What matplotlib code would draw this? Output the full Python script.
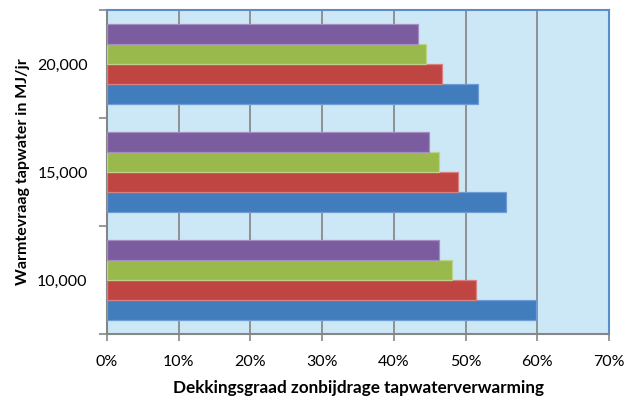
import matplotlib.pyplot as plt
import numpy as np

categories = ["10,000", "15,000", "20,000"]
# Four series per demand level, drawn bottom to top within each group
series_blue = [59.8, 55.7, 51.7]
series_red = [51.4, 49.0, 46.7]
series_green = [48.1, 46.3, 44.5]
series_purple = [46.3, 44.9, 43.3]
xticks_pct = [0, 10, 20, 30, 40, 50, 60, 70]

plt.rcParams['font.family'] = ['Lato', 'DejaVu Sans']

fig = plt.figure(figsize=(6.27, 3.99), dpi=100)
ax = fig.add_axes([0.1707, 0.1629, 0.9713 - 0.1707, 0.975 - 0.1629])
ax.set_facecolor('#CCE8F6')

series = [
    (series_blue, '#417CBD', '#6F9DD3'),
    (series_red, '#BE4541', '#D8807D'),
    (series_green, '#9AB94D', '#BBD488'),
    (series_purple, '#7B5C9E', '#A48DC0'),
]
y = np.arange(len(categories))
h = 0.186
offsets = [-1.5 * h, -0.5 * h, 0.5 * h, 1.5 * h]
for (vals, fc, ec), off in zip(series, offsets):
    ax.barh(y + off, vals, height=h, color=fc, edgecolor=ec, linewidth=0.9, zorder=3)

ax.set_xlim(0, 70)
ax.set_ylim(-0.5, 2.5)
ax.set_xticks(xticks_pct)
ax.set_xticklabels([f"{v}%" for v in xticks_pct], fontsize=11.5)
ax.set_yticks(y)
ax.set_yticklabels(categories, fontsize=11.5)
ax.set_yticks([-0.5, 0.5, 1.5, 2.5], minor=True)
ax.tick_params(axis='y', which='major', length=0, pad=14)
ax.tick_params(axis='y', which='minor', length=6, width=1.2, color='#868686', direction='out')
ax.tick_params(axis='x', which='major', length=5, width=1.2, color='#868686', direction='out', pad=10)

ax.grid(axis='x', color='#8A8A8A', linewidth=1.3, zorder=1)
ax.set_axisbelow(True)

for s in ['left', 'bottom']:
    ax.spines[s].set_color('#868686')
    ax.spines[s].set_linewidth(1.5)
for s in ['top', 'right']:
    ax.spines[s].set_color('#5A8ECB')
    ax.spines[s].set_linewidth(1.5)

ax.set_xlabel("Dekkingsgraad zonbijdrage tapwaterverwarming", fontsize=12.3,
              fontweight='bold', labelpad=8)
ax.set_ylabel("Warmtevraag tapwater in MJ/jr", fontsize=11.5, fontweight='bold', labelpad=5)

fig.savefig("out.png", dpi=100)
